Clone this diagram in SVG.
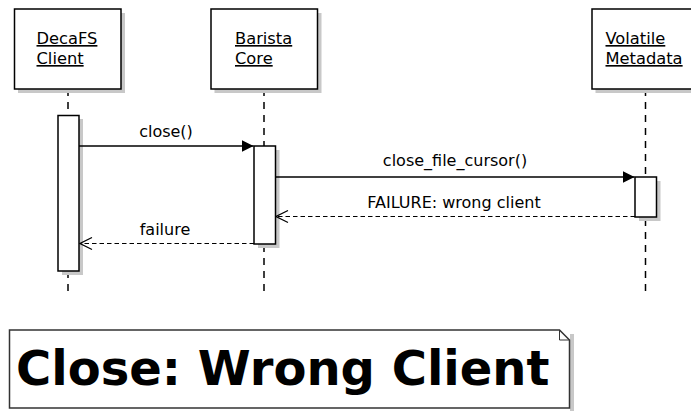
<svg xmlns="http://www.w3.org/2000/svg" width="691" height="411" viewBox="0 0 691 411">
  <style>
    .box { fill: #ffffff; stroke: #000000; stroke-width: 1.5; }
    .shadow { fill: #c8c8c8; stroke: none; }
    .life { stroke: #000000; stroke-width: 1.5; stroke-dasharray: 7 6; fill: none; }
    .msg { stroke: #000000; stroke-width: 1.5; fill: none; }
    .ret { stroke: #000000; stroke-width: 1.2; stroke-dasharray: 4.5 3; fill: none; }
    .head { font-family: "DejaVu Sans", Verdana, sans-serif; font-size: 16.3px; fill: #000000; text-decoration: underline; }
    .lbl { font-family: "DejaVu Sans", Verdana, sans-serif; font-size: 16px; fill: #000000; text-anchor: middle; }
    .title { font-family: "DejaVu Sans", Verdana, sans-serif; font-size: 48px; font-weight: bold; fill: #000000; }
  </style>
  <defs>
    <marker id="filled" viewBox="0 0 12 12" refX="12" refY="6" markerWidth="12" markerHeight="12" markerUnits="userSpaceOnUse" orient="auto">
      <path d="M0,0 L12,6 L0,12 Z" fill="#000000"/>
    </marker>
    <marker id="open" viewBox="0 0 14 14" refX="13" refY="7" markerWidth="14" markerHeight="14" markerUnits="userSpaceOnUse" orient="auto">
      <path d="M1,1 L13,7 L1,13" fill="none" stroke="#000000" stroke-width="1.2"/>
    </marker>
  </defs>

  <!-- lifelines -->
  <g id="lifelines">
    <line class="life" x1="68" y1="89" x2="68" y2="297"/>
    <line class="life" x1="264" y1="89" x2="264" y2="297"/>
    <line class="life" x1="645.5" y1="89" x2="645.5" y2="297"/>
  </g>

  <!-- participant: DecaFS Client -->
  <g id="decafs-client">
    <rect class="shadow" x="18" y="13" width="107" height="80"/>
    <rect class="box" x="14.5" y="9" width="106.5" height="80"/>
    <text class="head" x="36.5" y="44">DecaFS</text>
    <text class="head" x="36.5" y="64">Client</text>
    <rect class="shadow" x="62" y="119" width="21" height="156"/>
    <rect class="box" x="58" y="115.5" width="21" height="155.5"/>
  </g>

  <!-- participant: Barista Core -->
  <g id="barista-core">
    <rect class="shadow" x="214.5" y="13" width="107" height="80"/>
    <rect class="box" x="211" y="9" width="106.5" height="80"/>
    <text class="head" x="235" y="44">Barista</text>
    <text class="head" x="235" y="64">Core</text>
    <rect class="shadow" x="258" y="150" width="21.5" height="98"/>
    <rect class="box" x="254" y="146" width="21.5" height="98"/>
  </g>

  <!-- participant: Volatile Metadata -->
  <g id="volatile-metadata">
    <rect class="shadow" x="595.5" y="13" width="107" height="80"/>
    <rect class="box" x="592" y="9" width="107" height="80"/>
    <text class="head" x="605.5" y="44">Volatile</text>
    <text class="head" x="605.5" y="64">Metadata</text>
    <rect class="shadow" x="639" y="181" width="21.5" height="40"/>
    <rect class="box" x="635" y="177" width="21.5" height="40"/>
  </g>

  <!-- messages -->
  <g id="connectors">
    <line class="msg" x1="79" y1="146" x2="253.5" y2="146" marker-end="url(#filled)"/>
    <text class="lbl" x="166" y="137">close()</text>

    <line class="msg" x1="275.5" y1="177" x2="634.5" y2="177" marker-end="url(#filled)"/>
    <text class="lbl" x="455" y="166">close_file_cursor()</text>

    <line class="ret" x1="635" y1="216.5" x2="276" y2="216.5" marker-end="url(#open)"/>
    <text class="lbl" x="454" y="208">FAILURE: wrong client</text>

    <line class="ret" x1="254" y1="243.5" x2="80" y2="243.5" marker-end="url(#open)"/>
    <text class="lbl" x="165" y="235">failure</text>
  </g>

  <!-- diagram title note -->
  <g id="title-note">
    <rect class="shadow" x="570" y="334" width="4" height="77"/>
    <path d="M9.5,330 H559.5 L569.5,340 V408 H9.5 Z" fill="#ffffff" stroke="#333333" stroke-width="1.5"/>
    <path d="M559.5,330 V340 H569.5" fill="none" stroke="#333333" stroke-width="1"/>
    <text class="title" x="16" y="385">Close: Wrong Client</text>
  </g>
</svg>
